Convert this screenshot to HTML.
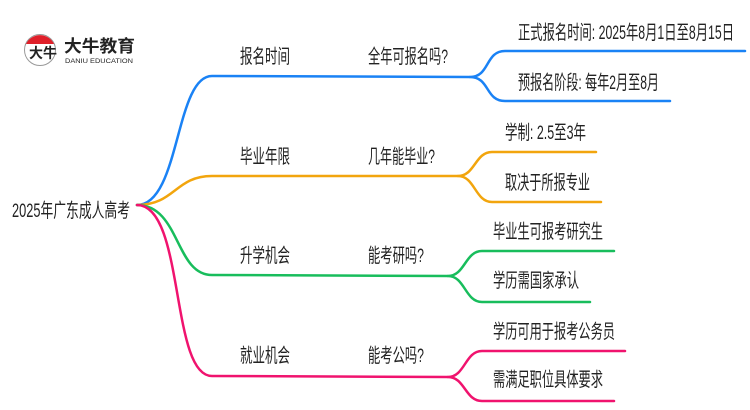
<!DOCTYPE html>
<html><head><meta charset="utf-8"><style>
html,body{margin:0;padding:0;background:#fff;}
svg{display:block;}
text{font-family:"Liberation Sans","Noto Sans CJK SC",sans-serif;fill:#222;}
</style></head><body>
<svg width="750" height="410" viewBox="0 0 750 410" xmlns="http://www.w3.org/2000/svg">
<g fill="none" stroke-width="2.5" stroke-linecap="round">
<path d="M137,205 C180,205 175,76 212,76 L470,77" stroke="#1a82f5"/>
<path d="M470,77 C490,77 485,51 505,51 L745,51 M470,77 C490,77 485,101 505,101 L670,101" stroke="#1a82f5"/>
<path d="M137,205 C175,205 175,176 212,176 L458,176" stroke="#f2a50d"/>
<path d="M458,176 C475,176 475,152 492,152 L596,152 M458,176 C475,176 475,202 492,202 L601,202" stroke="#f2a50d"/>
<path d="M137,205 C180,205 175,275 212,275 L448,276" stroke="#18bd5c"/>
<path d="M448,276 C465,276 465,251 482,251 L614,251 M448,276 C465,276 465,302 482,302 L590,302" stroke="#18bd5c"/>
<path d="M137,205 C185,205 170,376 212,376 L448,377" stroke="#f0136e"/>
<path d="M448,377 C465,377 465,351 482,351 L625,351 M448,377 C465,377 465,401 482,401 L614,401" stroke="#f0136e"/>
</g>
<!-- logo -->
<circle cx="40" cy="50" r="15.5" fill="#fff" stroke="#999" stroke-width="1"/>
<path d="M26,44 A15.5,15.5 0 0 1 54,44 Z" fill="#e0202a"/>
<text x="29" y="58" font-size="14" font-weight="bold">大牛</text>
<text x="64" y="52" font-size="17" font-weight="bold" textLength="71" lengthAdjust="spacingAndGlyphs">大牛教育</text>
<text x="65" y="63" font-size="6.5" textLength="68" lengthAdjust="spacingAndGlyphs">DANIU EDUCATION</text>
<g font-size="19.5">
<text x="12" y="217" textLength="118" lengthAdjust="spacingAndGlyphs">2025年广东成人高考</text>
<text x="240" y="63" textLength="50" lengthAdjust="spacingAndGlyphs">报名时间</text>
<text x="240" y="163" textLength="50" lengthAdjust="spacingAndGlyphs">毕业年限</text>
<text x="240" y="262" textLength="50" lengthAdjust="spacingAndGlyphs">升学机会</text>
<text x="240" y="362" textLength="50" lengthAdjust="spacingAndGlyphs">就业机会</text>
<text x="368" y="63" textLength="80" lengthAdjust="spacingAndGlyphs">全年可报名吗?</text>
<text x="368" y="163" textLength="67" lengthAdjust="spacingAndGlyphs">几年能毕业?</text>
<text x="368" y="262" textLength="56" lengthAdjust="spacingAndGlyphs">能考研吗?</text>
<text x="368" y="362" textLength="56" lengthAdjust="spacingAndGlyphs">能考公吗?</text>
<text x="518" y="39" textLength="216" lengthAdjust="spacingAndGlyphs">正式报名时间: 2025年8月1日至8月15日</text>
<text x="518" y="89" textLength="141" lengthAdjust="spacingAndGlyphs">预报名阶段: 每年2月至8月</text>
<text x="505" y="139" textLength="81" lengthAdjust="spacingAndGlyphs">学制: 2.5至3年</text>
<text x="505" y="189" textLength="85" lengthAdjust="spacingAndGlyphs">取决于所报专业</text>
<text x="493" y="238" textLength="110" lengthAdjust="spacingAndGlyphs">毕业生可报考研究生</text>
<text x="493" y="287" textLength="86" lengthAdjust="spacingAndGlyphs">学历需国家承认</text>
<text x="493" y="338" textLength="122" lengthAdjust="spacingAndGlyphs">学历可用于报考公务员</text>
<text x="493" y="386" textLength="110" lengthAdjust="spacingAndGlyphs">需满足职位具体要求</text>
</g>
</svg>
</body></html>
